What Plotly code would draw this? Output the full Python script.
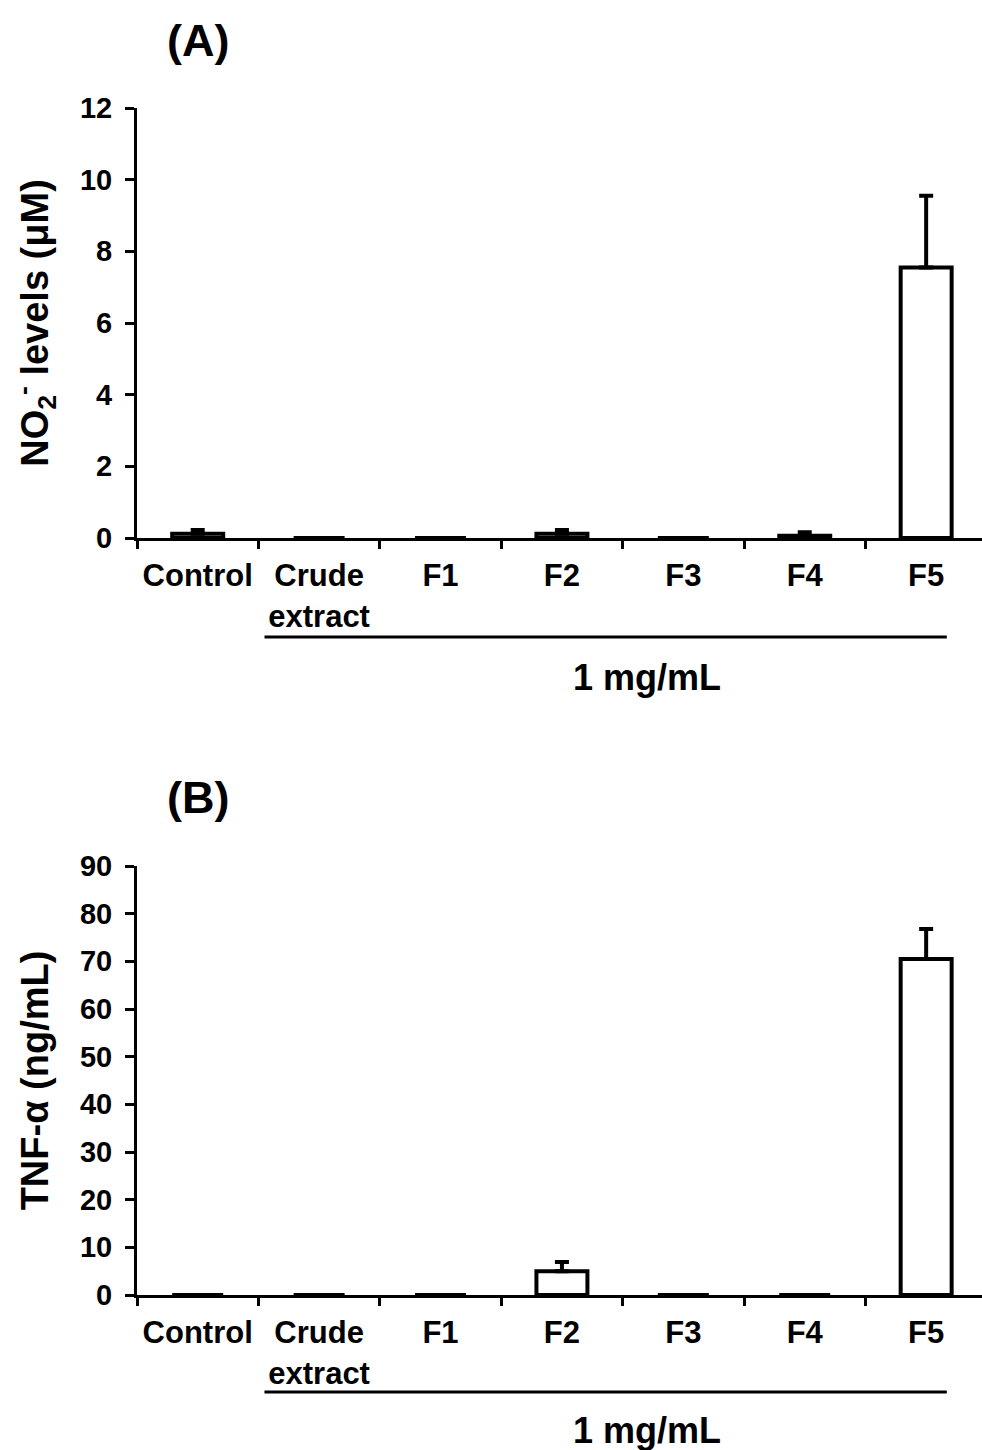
import plotly.graph_objects as go

categories = ["Control", "Crude<br>extract", "F1", "F2", "F3", "F4", "F5"]
no2_values = [0.12, 0.0, 0.0, 0.12, 0.0, 0.06, 7.55]
no2_errors = [0.1, 0.0, 0.0, 0.1, 0.0, 0.1, 2.0]
tnf_values = [0.0, 0.0, 0.0, 5.0, 0.0, 0.0, 70.5]
tnf_errors = [0.0, 0.0, 0.0, 1.9, 0.0, 0.0, 6.3]
no2_ticks = [0, 2, 4, 6, 8, 10, 12]
tnf_ticks = [0, 10, 20, 30, 40, 50, 60, 70, 80, 90]

W, H = 982, 1450
FONT = "Liberation Sans, Arial, Helvetica, sans-serif"

fig = go.Figure()

def add_bars(vals, errs, xa, ya):
    fig.add_trace(go.Bar(
        x=categories, y=vals, xaxis=xa, yaxis=ya,
        width=0.42,
        marker=dict(color="white", line=dict(color="black", width=4)),
        error_y=dict(type="data", symmetric=False, array=errs,
                     arrayminus=[0] * len(errs), color="black",
                     thickness=4, width=7),
        showlegend=False,
    ))

add_bars(no2_values, no2_errors, "x", "y")
add_bars(tnf_values, tnf_errors, "x2", "y2")

x0 = 137 / W
domA = [1 - 538 / H, 1 - 108 / H]
domB = [1 - 1295 / H, 1 - 866 / H]

xcommon = dict(
    type="category", range=[-0.5, 6.46], tickson="boundaries",
    ticks="outside", ticklen=8, tickwidth=3, tickcolor="black",
    showline=True, linecolor="black", linewidth=3,
    showgrid=False, zeroline=False, automargin=False,
    tickfont=dict(family=FONT, size=31, color="black", weight="bold"),
    ticklabelstandoff=8,
)
ycommon = dict(
    ticks="outside", ticklen=9, tickwidth=3, tickcolor="black",
    showline=True, linecolor="black", linewidth=3,
    showgrid=False, zeroline=False, automargin=False,
    tickfont=dict(family=FONT, size=29, color="black", weight="bold"),
    ticklabelstandoff=7,
)
title_font = dict(family=FONT, size=38, color="black", weight="bold")

fig.update_layout(
    width=W, height=H,
    margin=dict(l=0, r=0, t=0, b=0, pad=0, autoexpand=False),
    paper_bgcolor="white", plot_bgcolor="white",
    xaxis=dict(domain=[x0, 1], anchor="y", **xcommon),
    xaxis2=dict(domain=[x0, 1], anchor="y2", **xcommon),
    yaxis=dict(domain=domA, anchor="x", range=[0, 12], tickvals=no2_ticks,
               title=dict(text="NO<sub>2</sub><sup>-</sup> levels (μM)",
                          font=title_font, standoff=20),
               **ycommon),
    yaxis2=dict(domain=domB, anchor="x2", range=[0, 90], tickvals=tnf_ticks,
                title=dict(text="TNF-α (ng/mL)", font=title_font, standoff=20),
                **ycommon),
)

def py(p):
    return 1 - p / H

for lbl, ly, line_y, txt_y, xa in [("(A)", 40, 637, 677, "x"), ("(B)", 798, 1392, 1430, "x2")]:
    fig.add_annotation(text=lbl, xref="paper", yref="paper", x=165 / W, y=py(ly),
                       xanchor="left", yanchor="middle", showarrow=False,
                       font=dict(family=FONT, size=45, color="black", weight="bold"))
    fig.add_shape(type="line", xref=xa, yref="paper", x0=0.55, x1=6.17,
                  y0=py(line_y), y1=py(line_y),
                  line=dict(color="black", width=3))
    fig.add_annotation(text="1 mg/mL", xref=xa, yref="paper", x=3.7, y=py(txt_y),
                       xanchor="center", yanchor="middle", showarrow=False,
                       font=dict(family=FONT, size=36, color="black", weight="bold"))

fig.write_html("out.html",
               config={"displayModeBar": False},
               post_script="document.body.style.margin='0';document.body.style.overflow='hidden';")
